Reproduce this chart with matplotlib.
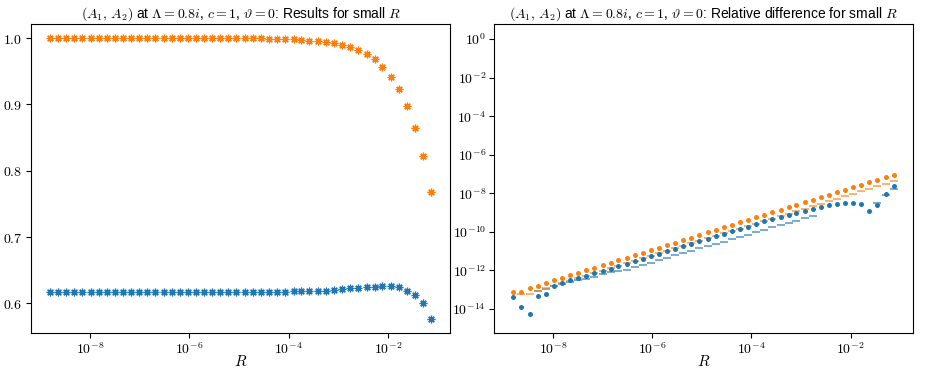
"""Results and relative difference for small R at Lambda = 0.8i."""

import numpy as np
import matplotlib

matplotlib.use("Agg")
import matplotlib.pyplot as plt
from matplotlib.ticker import FuncFormatter, NullLocator

plt.rcParams["font.family"] = ["Liberation Sans", "DejaVu Sans"]
plt.rcParams["mathtext.fontset"] = "cm"

# ==========================================
# DATA
# ==========================================

# log10(R) of the sample points
log_R = [
    -8.80, -8.64, -8.47, -8.31, -8.15, -7.98, -7.82, -7.66, -7.49, -7.33,
    -7.17, -7.00, -6.84, -6.68, -6.51, -6.35, -6.19, -6.03, -5.86, -5.70,
    -5.54, -5.37, -5.21, -5.05, -4.88, -4.72, -4.56, -4.39, -4.23, -4.07,
    -3.90, -3.74, -3.58, -3.41, -3.25, -3.09, -2.92, -2.76, -2.60, -2.43,
    -2.27, -2.11, -1.94, -1.78, -1.62, -1.46, -1.29, -1.13,
]

# Left panel: A_1 (blue) and A_2 (orange)
A1 = [
    0.618, 0.618, 0.618, 0.618, 0.618, 0.618, 0.618, 0.618, 0.618, 0.618,
    0.618, 0.618, 0.618, 0.618, 0.618, 0.618, 0.618, 0.618, 0.618, 0.618,
    0.618, 0.618, 0.618, 0.618, 0.618, 0.618, 0.618, 0.618, 0.618, 0.618,
    0.6181, 0.6183, 0.6185, 0.619, 0.6195, 0.620, 0.6215, 0.623, 0.6235, 0.6245,
    0.6255, 0.626, 0.626, 0.625, 0.6195, 0.6125, 0.600, 0.5765,
]
A2 = [
    1.0, 1.0, 1.0, 1.0, 1.0, 1.0, 1.0, 1.0, 1.0, 1.0,
    1.0, 1.0, 1.0, 1.0, 1.0, 1.0, 1.0, 1.0, 1.0, 1.0,
    1.0, 1.0, 1.0, 1.0, 1.0, 1.0, 0.9995, 0.9993, 0.999, 0.9985,
    0.998, 0.997, 0.996, 0.995, 0.9935, 0.992, 0.990, 0.987, 0.982, 0.976,
    0.968, 0.9565, 0.942, 0.923, 0.897, 0.864, 0.822, 0.768,
]

# Right panel: log10 of relative differences (nan = not shown)
diff_A1 = [
    -13.37, -13.89, -14.28, -13.34, -13.23, -12.78, -12.66, -12.50, -12.40, -12.28,
    -12.15, -12.02, -11.90, -11.77, -11.64, -11.51, -11.38, -11.25, -11.12, -10.99,
    -10.87, -10.74, -10.61, -10.48, -10.35, -10.22, -10.09, -9.97, -9.84, -9.72,
    -9.59, -9.46, -9.34, -9.22, -9.11, -9.02, -8.92, -8.80, -8.71, -8.62,
    -8.56, -8.50, -8.50, -8.57, -8.94, -8.61, -8.02, -7.63,
]
diff_A2 = [
    -13.13, -13.13, -12.90, -12.80, -12.66, -12.52, -12.38, -12.26, -12.12, -12.00,
    -11.86, -11.74, -11.60, -11.46, -11.34, -11.22, -11.08, -10.95, -10.82, -10.69,
    -10.55, -10.42, -10.29, -10.16, -10.03, -9.90, -9.77, -9.64, -9.49, -9.37,
    -9.23, -9.11, -8.97, -8.85, -8.71, -8.59, -8.45, -8.33, -8.19, -8.07,
    -7.93, -7.81, -7.67, -7.55, -7.41, -7.29, -7.16, -7.03,
]
est_A1 = [
    np.nan, np.nan, np.nan, -13.06, -12.95, -12.83, -12.72, -12.62, -12.50, -12.42,
    -12.32, -12.20, -12.09, -12.01, -11.95, -11.83, -11.71, -11.59, -11.47, -11.35,
    -11.22, -11.10, -10.98, -10.86, -10.74, -10.62, -10.50, -10.38, -10.26, -10.14,
    -10.01, -9.89, -9.77, -9.65, -9.53, -9.41, -9.28, -9.16, np.nan, np.nan,
    np.nan, np.nan, np.nan, np.nan, np.nan, -8.49, -8.10, -7.79,
]
est_A2 = [
    np.nan, -13.23, -13.21, -13.06, -12.92, -12.79, -12.66, -12.53, -12.40, -12.27,
    -12.15, -12.02, -11.89, -11.76, -11.63, -11.50, -11.37, -11.24, -11.11, -10.98,
    -10.86, -10.73, -10.60, -10.47, -10.34, -10.21, -10.08, -9.95, -9.83, -9.70,
    -9.57, -9.44, -9.31, -9.18, -9.05, -8.92, -8.79, -8.66, -8.53, -8.40,
    -8.28, -8.15, -8.02, -7.89, -7.76, -7.63, -7.50, -7.37,
]

x_ticks = [1e-8, 1e-6, 1e-4, 1e-2]
y_ticks_right = [1e0, 1e-2, 1e-4, 1e-6, 1e-8, 1e-10, 1e-12, 1e-14]

R = 10.0 ** np.array(log_R)
title_head = r"$(A_1,\,A_2)$ at $\Lambda = 0.8i$, $c = 1$, $\vartheta = 0$: "

# Tick labels in Computer Modern, like LaTeX output
pow_fmt = FuncFormatter(lambda v, p: r"$10^{%d}$" % int(round(np.log10(v))))
lin_fmt = FuncFormatter(lambda v, p: f"${v:.1f}$")

fig = plt.figure(figsize=(9.38, 3.76), dpi=100)
ax1 = fig.add_axes([0.033, 0.114, 0.447, 0.822])
ax2 = fig.add_axes([0.527, 0.114, 0.446, 0.822])

# Left: results
ax1.plot(R, A1, linestyle="none", marker=(8, 2, 0), markersize=5.5,
         markeredgewidth=0.9, color="tab:blue")
ax1.plot(R, A2, linestyle="none", marker=(8, 2, 0), markersize=5.5,
         markeredgewidth=0.9, color="tab:orange")
ax1.set_xscale("log")
ax1.set_xticks(x_ticks)
ax1.xaxis.set_major_formatter(pow_fmt)
ax1.xaxis.set_minor_locator(NullLocator())
ax1.set_yticks([0.6, 0.7, 0.8, 0.9, 1.0])
ax1.yaxis.set_major_formatter(lin_fmt)
ax1.set_xlabel("$R$", fontsize=11, labelpad=-2)
ax1.set_title(title_head + r"Results for small $R$", fontsize=10, pad=5)

# Right: relative differences
ax2.plot(R, 10.0 ** np.array(est_A1), linestyle="none", marker="_",
         markersize=6, markeredgewidth=1.2, color="tab:blue", alpha=0.7)
ax2.plot(R, 10.0 ** np.array(est_A2), linestyle="none", marker="_",
         markersize=6, markeredgewidth=1.2, color="tab:orange", alpha=0.7)
ax2.plot(R, 10.0 ** np.array(diff_A1), linestyle="none", marker="o",
         markersize=3.6, markeredgewidth=0, color="tab:blue")
ax2.plot(R, 10.0 ** np.array(diff_A2), linestyle="none", marker="o",
         markersize=3.6, markeredgewidth=0, color="tab:orange")
ax2.set_xscale("log")
ax2.set_yscale("log")
ax2.set_xticks(x_ticks)
ax2.set_yticks(y_ticks_right)
ax2.xaxis.set_major_formatter(pow_fmt)
ax2.yaxis.set_major_formatter(pow_fmt)
ax2.xaxis.set_minor_locator(NullLocator())
ax2.yaxis.set_minor_locator(NullLocator())
ax2.set_ylim(10 ** -15.25, 10 ** 0.78)
ax2.set_xlabel("$R$", fontsize=11, labelpad=-2)
ax2.set_title(title_head + r"Relative difference for small $R$", fontsize=10, pad=5)

for ax in (ax1, ax2):
    ax.tick_params(labelsize=10, pad=2.5)

plt.savefig("out.png", dpi=100)
